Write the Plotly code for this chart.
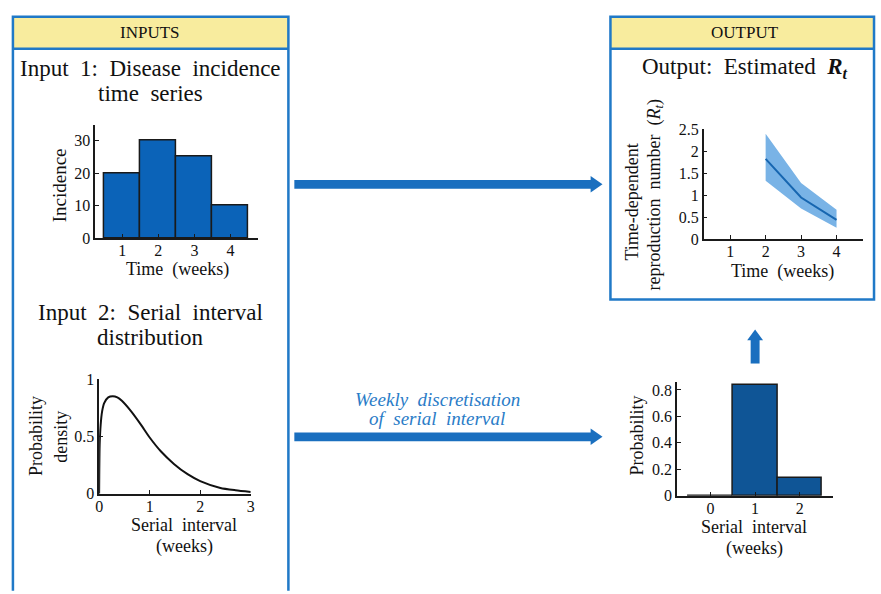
import plotly.graph_objects as go

W, H = 881, 594

# ---------------- data ----------------
weeks = [1, 2, 3, 4]
incidence = [20, 30, 25, 10]

si_x = [0, 0.01, 0.03, 0.06, 0.1, 0.18, 0.27, 0.36, 0.45, 0.63, 0.83, 1.0, 1.22, 1.48, 1.75, 2.0, 2.4, 2.7, 3.0]
si_density = [0, 0.42, 0.6, 0.72, 0.79, 0.84, 0.85, 0.84, 0.81, 0.72, 0.60, 0.49, 0.37, 0.26, 0.17, 0.11, 0.05, 0.03, 0.015]

rt_weeks = [2, 3, 4]
rt_mean = [1.83, 0.95, 0.44]
rt_upper = [2.40, 1.28, 0.67]
rt_lower = [1.33, 0.70, 0.26]

si_bins = [0, 1, 2]
si_prob = [0.0, 0.835, 0.135]

# ---------------- helpers ----------------
def px(x):
    return x / W

def py(y):
    return 1 - y / H

def dom_x(a, b):
    return [a / W, b / W]

def dom_y(top, bottom):
    return [1 - bottom / H, 1 - top / H]

FONT = "Liberation Serif"
AX = "#1a1a1a"
TXT = "#111111"
BOX = "#2079c7"
YEL = "#f8ec9e"
ARROW = "#1a6fbf"

fig = go.Figure()

fig.add_trace(go.Bar(x=weeks, y=incidence, width=1, xaxis="x", yaxis="y",
                     marker=dict(color="#0b63b8", line=dict(color="#1a1a1a", width=1.5)),
                     showlegend=False))

fig.add_trace(go.Scatter(x=si_x, y=si_density, mode="lines", xaxis="x2", yaxis="y2",
                         line=dict(color="#111111", width=2, shape="spline", smoothing=0.6),
                         showlegend=False))

fig.add_trace(go.Scatter(x=rt_weeks, y=rt_upper, mode="lines", xaxis="x3", yaxis="y3",
                         line=dict(width=0, color="#79b3e6"), showlegend=False))
fig.add_trace(go.Scatter(x=rt_weeks, y=rt_lower, mode="lines", xaxis="x3", yaxis="y3",
                         line=dict(width=0, color="#79b3e6"), fill="tonexty",
                         fillcolor="#79b3e6", showlegend=False))
fig.add_trace(go.Scatter(x=rt_weeks, y=rt_mean, mode="lines", xaxis="x3", yaxis="y3",
                         line=dict(color="#1766b0", width=2), showlegend=False))

fig.add_trace(go.Bar(x=si_bins, y=si_prob, width=1, xaxis="x4", yaxis="y4",
                     marker=dict(color="#0f5596", line=dict(color="#1a1a1a", width=1.5)),
                     showlegend=False))

tickfont = dict(family=FONT, size=16, color=TXT)
axcommon = dict(showline=True, linecolor=AX, linewidth=1.5, ticks="inside", ticklen=4,
                tickcolor=AX, tickwidth=1, showgrid=False, zeroline=False,
                tickfont=tickfont, fixedrange=True)
xcommon = dict(axcommon, ticklabelstandoff=-3)
ycommon = dict(axcommon)

layout = dict(
    width=W, height=H, margin=dict(l=0, r=0, t=0, b=0),
    paper_bgcolor="white", plot_bgcolor="rgba(0,0,0,0)", bargap=0,
    xaxis=dict(domain=dom_x(92, 256), range=[0.25, 4.75], anchor="y", tickvals=[1, 2, 3, 4], **xcommon),
    yaxis=dict(domain=dom_y(120, 237), range=[0, 35], anchor="x", tickvals=[0, 10, 20, 30], **ycommon),
    xaxis2=dict(domain=dom_x(96, 249), range=[0, 3], anchor="y2", tickvals=[0, 1, 2, 3], **xcommon),
    yaxis2=dict(domain=dom_y(382, 500), range=[0, 1.0], anchor="x2", tickvals=[0, 0.5, 1], **ycommon),
    xaxis3=dict(domain=dom_x(706, 867), range=[0.25, 4.75], anchor="y3", tickvals=[1, 2, 3, 4], **xcommon),
    yaxis3=dict(domain=dom_y(125, 238), range=[0, 2.5], anchor="x3",
                tickvals=[0, 0.5, 1, 1.5, 2, 2.5], **ycommon),
    xaxis4=dict(domain=dom_x(679, 837), range=[-0.75, 2.75], anchor="y4", tickvals=[0, 1, 2], **xcommon),
    yaxis4=dict(domain=dom_y(385, 502), range=[0, 0.86], anchor="x4",
                tickvals=[0, 0.2, 0.4, 0.6, 0.8], **ycommon),
)
fig.update_layout(**layout)

# ---------------- boxes & arrows ----------------
shapes = []
shapes.append(dict(type="rect", xref="paper", yref="paper", x0=px(9), x1=px(287), y0=py(9), y1=py(42),
                   fillcolor=YEL, line=dict(width=0), layer="below"))
shapes.append(dict(type="rect", xref="paper", yref="paper", x0=px(612), x1=px(878), y0=py(9), y1=py(42),
                   fillcolor=YEL, line=dict(width=0), layer="below"))
shapes.append(dict(type="path", xref="paper", yref="paper",
                   path=f"M {px(9)} {py(600)} L {px(9)} {py(9)} L {px(287)} {py(9)} L {px(287)} {py(600)}",
                   line=dict(color=BOX, width=2.5)))
shapes.append(dict(type="line", xref="paper", yref="paper", x0=px(9), x1=px(287), y0=py(42), y1=py(42),
                   line=dict(color=BOX, width=2.5)))
shapes.append(dict(type="rect", xref="paper", yref="paper", x0=px(612), x1=px(878), y0=py(9), y1=py(300),
                   line=dict(color=BOX, width=2.5)))
shapes.append(dict(type="line", xref="paper", yref="paper", x0=px(612), x1=px(878), y0=py(42), y1=py(42),
                   line=dict(color=BOX, width=2.5)))

def h_arrow(x0, x1, yc, th=9, hl=12, hw=17):
    shapes.append(dict(type="rect", xref="paper", yref="paper", x0=px(x0), x1=px(x1 - hl + 1),
                       y0=py(yc - th / 2), y1=py(yc + th / 2), fillcolor=ARROW, line=dict(width=0)))
    shapes.append(dict(type="path", xref="paper", yref="paper",
                       path=f"M {px(x1 - hl)} {py(yc - hw / 2)} L {px(x1)} {py(yc)} L {px(x1 - hl)} {py(yc + hw / 2)} Z",
                       fillcolor=ARROW, line=dict(width=0)))

def v_arrow(xc, y0, y1, th=9, hl=11, hw=16):
    shapes.append(dict(type="rect", xref="paper", yref="paper", x0=px(xc - th / 2), x1=px(xc + th / 2),
                       y0=py(y0), y1=py(y1 + hl - 1), fillcolor=ARROW, line=dict(width=0)))
    shapes.append(dict(type="path", xref="paper", yref="paper",
                       path=f"M {px(xc - hw / 2)} {py(y1 + hl)} L {px(xc)} {py(y1)} L {px(xc + hw / 2)} {py(y1 + hl)} Z",
                       fillcolor=ARROW, line=dict(width=0)))

h_arrow(293, 604, 181.5)
h_arrow(293, 604, 441.5)
v_arrow(758, 366, 331)

fig.update_layout(shapes=shapes)

# ---------------- text ----------------
def note(text, x, y, size=15, color=TXT, angle=0, italic=False):
    fig.add_annotation(text=text, x=px(x), y=py(y), xref="paper", yref="paper",
                       showarrow=False, textangle=angle, xanchor="center", yanchor="middle",
                       font=dict(family=FONT, size=size, color=color,
                                 style="italic" if italic else "normal"))

note("INPUTS", 147, 25, size=17)
note("OUTPUT", 748, 25, size=17)
note("Input  1:  Disease  incidence", 148, 62, size=23)
note("time  series", 148, 88, size=23)
note("Output:  Estimated  <b><i>R<sub>t</sub></i></b>", 748, 62, size=23)
note("Input  2:  Serial  interval", 148, 313, size=23)
note("distribution", 148, 339, size=23)

note("Incidence", 56, 182, size=19, angle=-90)
note("Time  (weeks)", 175, 269, size=18)

note("Probability", 33, 441, size=18, angle=-90)
note("density", 58, 441, size=18, angle=-90)
note("Serial  interval", 182, 532, size=18)
note("(weeks)", 182, 554, size=18)

note("Time-dependent", 634, 200, size=18, angle=-90)
note("reproduction  number  (<i>R<sub>t</sub></i>)", 657, 193, size=18, angle=-90)
note("Time  (weeks)", 786, 271, size=18)

note("Probability", 639, 440, size=18, angle=-90)
note("Serial  interval", 757, 534, size=18)
note("(weeks)", 757, 556, size=18)

note("Weekly  discretisation", 437, 403, size=19, color="#2a7cc7", italic=True)
note("of  serial  interval", 437, 423, size=19, color="#2a7cc7", italic=True)

fig.write_html("out.html", config={"displayModeBar": False},
               post_script="document.body.style.margin='0';")
